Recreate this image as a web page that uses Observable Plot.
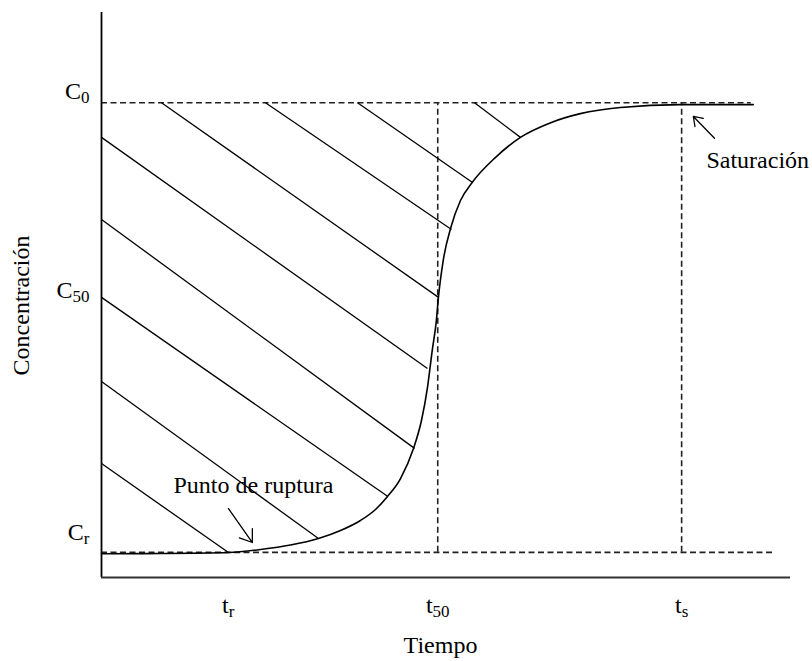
<!DOCTYPE html>
<html>
<head>
<meta charset="utf-8">
<script src="https://cdn.jsdelivr.net/npm/d3@7"></script>
<script src="https://cdn.jsdelivr.net/npm/@observablehq/plot@0.6"></script>
<style>
  html, body { margin: 0; padding: 0; background: #fff; }
  svg { display: block; }
</style>
</head>
<body>
<div id="chart"></div>
<script>
// ---- data (time 0–100, concentration normalised so C0 = 1) ----
const curveT = [0, 8.6, 18.43, 23.08, 27.43, 31.49, 34.69, 37.59, 39.77, 41.51, 43.40, 45.28, 46.44, 47.31, 48.0, 48.6, 48.9, 49.6, 50.7, 52.1, 53.8, 57.2, 60.8, 65.2, 69.5, 75.3, 84.0, 94.6];
const curveC = [0.050, 0.0505, 0.0525, 0.059, 0.0684, 0.0821, 0.099, 0.1201, 0.1432, 0.1706, 0.2085, 0.2717, 0.3306, 0.400, 0.478, 0.541, 0.590, 0.668, 0.737, 0.794, 0.832, 0.885, 0.927, 0.958, 0.977, 0.990, 0.996, 0.996];

// hatching segments (start and end on the shaded area's borders)
const hatchT1 = [8.71, 23.80, 37.16, 54.14, 0, 0, 0, 0, 0];
const hatchC1 = [1, 1, 1, 1, 0.927, 0.754, 0.590, 0.413, 0.240];
const hatchT2 = [48.91, 50.80, 53.85, 60.81, 47.31, 45.43, 41.51, 31.49, 18.43];
const hatchC2 = [0.590, 0.733, 0.832, 0.927, 0.440, 0.272, 0.171, 0.082, 0.0525];

// reference levels
const C0 = 1, Cr = 0.053;
const t50 = 48.8, ts = 84.2;
const c0DashEnd = 94.3, crDashEnd = 97.4;

// tick labels ("|" separates base text and subscript)
const xTicks = [18.4, 48.8, 84.2];
const xTickLabels = ["t|r", "t|50", "t|s"];
const yTicks = [1, 0.581, 0.073];
const yTickLabels = ["C|0", "C|50", "C|r"];

// annotations
const notes = [
  {text: "Punto de ruptura", t: 10.45, c: 0.177},
  {text: "Saturación", t: 87.8, c: 0.8635}
];
const arrows = [
  {t1: 18.43, c1: 0.145, t2: 21.9, c2: 0.0737},
  {t1: 88.97, c1: 0.925, t2: 85.9, c2: 0.971}
];
const xLabel = "Tiempo";
const yLabel = "Concentración";

const curve = curveT.map((t, i) => ({t, c: curveC[i]}));
const hatch = hatchT1.map((t, i) => ({t1: t, c1: hatchC1[i], t2: hatchT2[i], c2: hatchC2[i]}));

const dash = "6,3.5";
const ink = "#222";

const plot = Plot.plot({
  width: 812,
  height: 661,
  marginLeft: 101,
  marginRight: 22,
  marginTop: 12,
  marginBottom: 84,
  style: {fontFamily: "'Liberation Serif', 'Times New Roman', serif", fontSize: "24px", background: "#fff", color: "#000"},
  x: {domain: [0, 100], axis: null},
  y: {domain: [0, 1.19], axis: null},
  marks: [
    // dashed reference lines
    Plot.ruleY([C0], {x1: 0, x2: c0DashEnd, stroke: ink, strokeWidth: 1.6, strokeDasharray: dash}),
    Plot.ruleY([Cr], {x1: 0, x2: crDashEnd, stroke: ink, strokeWidth: 1.6, strokeDasharray: dash}),
    Plot.ruleX([t50, ts], {y1: Cr, y2: C0, stroke: ink, strokeWidth: 1.6, strokeDasharray: dash}),
    // hatching
    Plot.link(hatch, {x1: "t1", y1: "c1", x2: "t2", y2: "c2", stroke: "#000", strokeWidth: 1.3}),
    // breakthrough curve
    Plot.line(curve, {x: "t", y: "c", curve: "monotone-x", stroke: "#000", strokeWidth: 1.6}),
    // axes lines
    Plot.ruleX([0], {y1: 0, y2: 1.19, stroke: "#000", strokeWidth: 1.8}),
    Plot.ruleY([0], {x1: 0, x2: 100, stroke: "#333", strokeWidth: 2.2}),
    // tick labels
    Plot.axisX(xTicks, {tickSize: 0, tickPadding: 18, tickFormat: (d, i) => xTickLabels[i], label: null, fontSize: 24}),
    Plot.axisY(yTicks, {tickSize: 0, tickPadding: 12, tickFormat: (d, i) => yTickLabels[i], label: null, fontSize: 24, dy: -11}),
    // annotations
    Plot.text(notes, {x: "t", y: "c", text: "text", textAnchor: "start", lineAnchor: "bottom", fontSize: 24, fill: "#000"}),
    Plot.arrow(arrows, {x1: "t1", y1: "c1", x2: "t2", y2: "c2", stroke: "#000", strokeWidth: 1.3, headLength: 17, headAngle: 70}),
    // axis titles
    Plot.text([xLabel], {x: 49.2, frameAnchor: "bottom", dy: 75, textAnchor: "middle", lineAnchor: "bottom", fontSize: 24, fill: "#000"}),
    Plot.text([yLabel], {y: 0.573, frameAnchor: "left", dx: -73, rotate: -90, textAnchor: "middle", lineAnchor: "bottom", fontSize: 24, fill: "#000"})
  ]
});

// render "base|sub" labels as base text with a subscript
d3.select(plot).selectAll("text").each(function () {
  const s = this.textContent;
  if (s.includes("|")) {
    const [base, sub] = s.split("|");
    const el = d3.select(this);
    el.text(null);
    el.append("tspan").text(base);
    el.append("tspan").attr("dy", 4).attr("font-size", 17).text(sub);
  }
});

document.getElementById("chart").appendChild(plot);
</script>
</body>
</html>
